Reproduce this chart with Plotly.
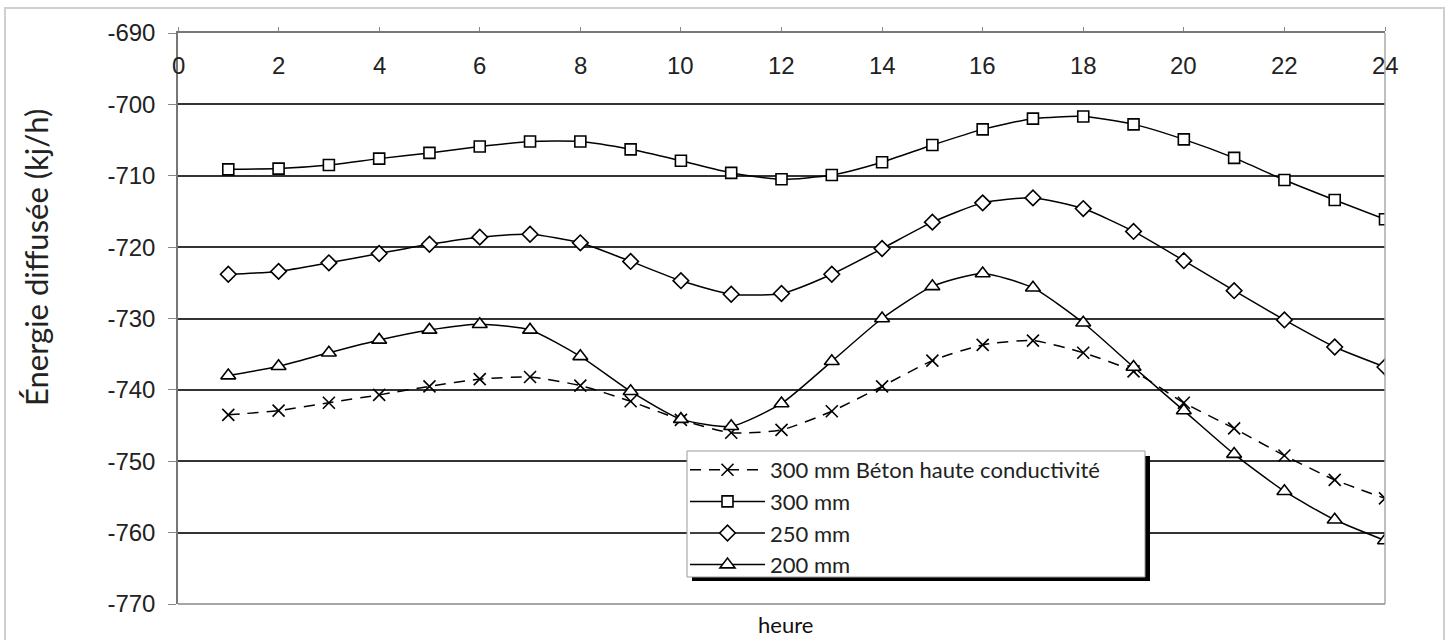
import plotly.graph_objects as go

hours = list(range(1, 25))

beton_hc_300 = [-743.5, -742.9, -741.8, -740.7, -739.5, -738.5, -738.2, -739.4, -741.6, -744.2,
                -746.0, -745.6, -743.0, -739.5, -735.9, -733.7, -733.1, -734.8, -737.4, -741.8,
                -745.4, -749.2, -752.6, -755.2]
mm300 = [-709.1, -709.0, -708.5, -707.6, -706.8, -705.9, -705.2, -705.2, -706.3, -707.9,
         -709.6, -710.5, -709.9, -708.1, -705.7, -703.5, -702.0, -701.7, -702.8, -704.9,
         -707.5, -710.6, -713.4, -716.1]
mm250 = [-723.8, -723.4, -722.2, -720.9, -719.6, -718.6, -718.2, -719.4, -722.0, -724.7,
         -726.6, -726.5, -723.8, -720.2, -716.5, -713.8, -713.1, -714.6, -717.8, -721.9,
         -726.1, -730.2, -734.0, -736.8]
mm200 = [-738.0, -736.7, -734.8, -733.0, -731.6, -730.8, -731.6, -735.3, -740.2, -744.1,
         -745.1, -741.9, -736.0, -730.0, -725.5, -723.7, -725.7, -730.6, -736.8, -742.9,
         -749.0, -754.2, -758.2, -761.1]

series_names = ["300 mm Béton haute conductivité", "300 mm", "250 mm", "200 mm"]
x_ticks = list(range(0, 25, 2))
y_ticks = list(range(-770, -689, 10))

W, H = 1449, 640
L, R, T, B = 178, 1385, 33, 604


def px(xp):
    return (xp - L) / (R - L)


def py(yp):
    return (B - yp) / (B - T)


fig = go.Figure()

styles = [
    (beton_hc_300, "x-thin", 12, "dash"),
    (mm300, "square", 11, "solid"),
    (mm250, "diamond", 12, "solid"),
    (mm200, "triangle-up", 13, "solid"),
]
for i, (vals, sym, size, dash) in enumerate(styles):
    fig.add_trace(go.Scatter(
        x=hours, y=vals, name=series_names[i], mode="lines+markers",
        line=dict(color="black", width=1.5, dash=("11px,8px" if dash == "dash" else "solid"),
                  shape="spline", smoothing=0.6),
        marker=dict(symbol=sym, size=size, color=("black" if sym == "x-thin" else "white"),
                    line=dict(color="black", width=1.6)),
    ))

shapes = [
    # outer frame
    dict(type="rect", xref="paper", yref="paper", x0=px(5), x1=px(1444), y0=py(660), y1=py(8),
         line=dict(color="#cfcfcf", width=2), fillcolor="rgba(0,0,0,0)", layer="below"),
    # plot area border right/bottom
    dict(type="line", xref="paper", yref="paper", x0=1, x1=1, y0=0, y1=1,
         line=dict(color="#aaaaaa", width=1.5)),
    dict(type="line", xref="paper", yref="paper", x0=0, x1=1, y0=0, y1=0,
         line=dict(color="#888888", width=1.5)),
    # legend shadow
    dict(type="rect", xref="paper", yref="paper", x0=px(692), x1=px(1150), y0=py(581), y1=py(456),
         line=dict(width=0), fillcolor="black", layer="above"),
    # legend box
    dict(type="rect", xref="paper", yref="paper", x0=px(687), x1=px(1145), y0=py(577), y1=py(451),
         line=dict(color="#9a9a9a", width=1), fillcolor="white", layer="above"),
]

annotations = [
    dict(text="heure", xref="paper", yref="paper", x=px(785), y=py(625), showarrow=False,
         font=dict(family="Lato", size=22, color="#111"), xanchor="center", yanchor="middle"),
    dict(text="Énergie diffusée (kj/h)", xref="paper", yref="paper", x=px(36), y=py(258),
         showarrow=False, textangle=-90, font=dict(family="Lato", size=31, color="#222"),
         xanchor="center", yanchor="middle"),
]
for v in x_ticks:
    annotations.append(dict(text=str(v), xref="x", yref="paper", x=v, y=py(65.5),
                            showarrow=False, xanchor="center", yanchor="middle",
                            font=dict(family="Liberation Sans", size=24, color="#222")))

fig.update_layout(
    width=W, height=H,
    margin=dict(l=L, r=W - R, t=T, b=H - B, autoexpand=False),
    paper_bgcolor="white", plot_bgcolor="white",
    showlegend=True,
    legend=dict(x=px(685), y=py(449), xanchor="left", yanchor="top",
                bgcolor="rgba(0,0,0,0)", borderwidth=0,
                font=dict(family="Lato", size=22, color="#222"),
                itemwidth=75, traceorder="normal"),
    shapes=shapes, annotations=annotations,
    xaxis=dict(range=[0, 24], tickvals=x_ticks, showticklabels=False,
               side="top", ticks="outside", ticklen=4,
               tickcolor="#888", showgrid=False, zeroline=False, showline=True,
               linecolor="#777", linewidth=1.5),
    yaxis=dict(range=[-770, -690], tickvals=y_ticks, ticktext=[str(v) for v in y_ticks],
               ticks="outside", ticklen=8, tickcolor="#888", ticklabelstandoff=8,
               showgrid=True, gridcolor="#333", gridwidth=1.5, zeroline=False, showline=True,
               linecolor="#777", linewidth=1.5,
               tickfont=dict(family="Liberation Sans", size=24, color="#222")),
)

fig.write_html("out.html", config={"displayModeBar": False},
               post_script="document.body.style.margin='0';document.body.style.padding='0';")
